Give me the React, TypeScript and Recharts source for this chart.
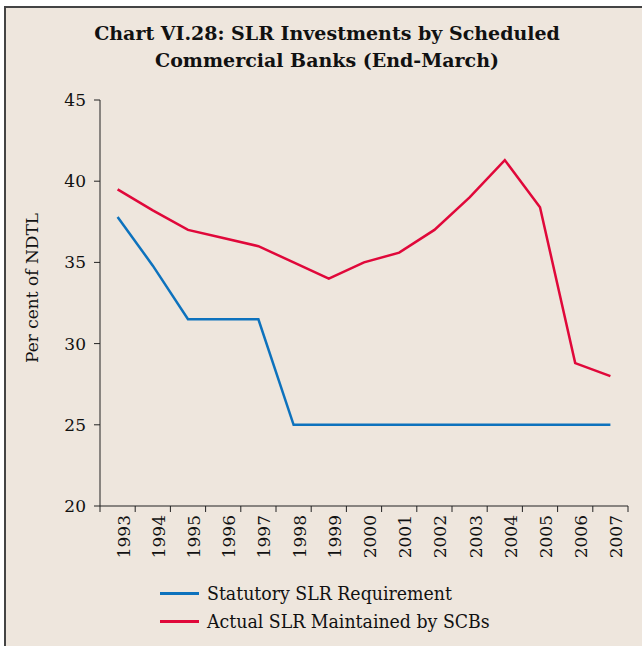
import { LineChart, Line, XAxis, YAxis, Legend } from 'recharts';

const years = ['1993', '1994', '1995', '1996', '1997', '1998', '1999', '2000', '2001', '2002', '2003', '2004', '2005', '2006', '2007'];
const statutory = [37.8, 34.8, 31.5, 31.5, 31.5, 25, 25, 25, 25, 25, 25, 25, 25, 25, 25];
const actual = [39.5, 38.2, 37.0, 36.5, 36.0, 35.0, 34.0, 35.0, 35.6, 37.0, 39.0, 41.3, 38.4, 28.8, 28.0];
const yTicks = [20, 25, 30, 35, 40, 45];

const BLUE = '#0d72bd';
const RED = '#e0083a';
const BG = '#eee6dd';
const SERIF = '"DejaVu Serif", serif';

// x position of each year = middle of its band, so tick marks fall on band edges
const data = years.map((year, i) => ({
  year,
  pos: i + 0.5,
  statutory: statutory[i],
  actual: actual[i],
}));
const edgeTicks = years.map((_, i) => i).concat(years.length);

function LegendBox() {
  const items = [
    { label: 'Statutory SLR Requirement', color: BLUE },
    { label: 'Actual SLR Maintained by SCBs', color: RED },
  ];
  return (
    <div style={{ fontFamily: '"DejaVu Serif Condensed", "DejaVu Serif", serif', fontSize: 19.3, color: '#111' }}>
      {items.map((it) => (
        <div key={it.label} style={{ display: 'flex', alignItems: 'center', height: 28 }}>
          <span style={{ display: 'inline-block', width: 39, height: 3, background: it.color, marginRight: 8 }} />
          {it.label}
        </div>
      ))}
    </div>
  );
}

export default function App() {
  return (
    <div style={{ position: 'absolute', left: 0, top: 0, width: 642, height: 646, background: '#fff' }}>
      <div
        style={{
          position: 'absolute',
          left: 4,
          top: 6,
          width: 638,
          height: 640,
          background: BG,
          borderLeft: '2px solid #444',
          borderTop: '2px solid #444',
          boxSizing: 'border-box',
        }}
      />
      <div
        style={{
          position: 'absolute',
          left: 0,
          top: 20,
          width: 654,
          textAlign: 'center',
          fontFamily: SERIF,
          fontWeight: 'bold',
          fontSize: 19,
          lineHeight: '27px',
          color: '#111',
        }}
      >
        Chart VI.28: SLR Investments by Scheduled
        <br />
        Commercial Banks (End-March)
      </div>
      <div style={{ position: 'absolute', left: 0, top: 0 }}>
        <LineChart width={642} height={646} data={data} margin={{ top: 100, right: 14, bottom: 8, left: 8 }}>
          <XAxis
            xAxisId="edge"
            type="number"
            dataKey="pos"
            domain={[0, years.length]}
            ticks={edgeTicks}
            tickFormatter={() => ''}
            height={1}
            stroke="#222"
            tickSize={6}
          />
          <XAxis
            xAxisId="years"
            dataKey="year"
            scale="band"
            axisLine={false}
            tickLine={false}
            interval={0}
            angle={-90}
            textAnchor="end"
            height={75}
            tickMargin={8}
            tick={{ fill: '#111', fontSize: 17, fontFamily: SERIF, dy: -6 }}
          />
          <YAxis
            domain={[20, 45]}
            ticks={yTicks}
            width={92}
            stroke="#222"
            tickSize={6}
            tickMargin={8}
            tick={{ fill: '#111', fontSize: 17, fontFamily: SERIF }}
            label={{
              content: () => (
                <text
                  x={32}
                  y={288}
                  transform="rotate(-90, 32, 288)"
                  textAnchor="middle"
                  dominantBaseline="central"
                  fill="#111"
                  fontSize={17}
                  fontFamily={SERIF}
                >
                  Per cent of NDTL
                </text>
              ),
            }}
          />
          <Legend
            verticalAlign="bottom"
            content={() => <LegendBox />}
            wrapperStyle={{ left: 160, bottom: 11, width: 420 }}
          />
          <Line
            xAxisId="edge"
            dataKey="statutory"
            name="Statutory SLR Requirement"
            stroke={BLUE}
            strokeWidth={2.5}
            dot={false}
            isAnimationActive={false}
          />
          <Line
            xAxisId="edge"
            dataKey="actual"
            name="Actual SLR Maintained by SCBs"
            stroke={RED}
            strokeWidth={2.5}
            dot={false}
            isAnimationActive={false}
          />
        </LineChart>
      </div>
    </div>
  );
}
